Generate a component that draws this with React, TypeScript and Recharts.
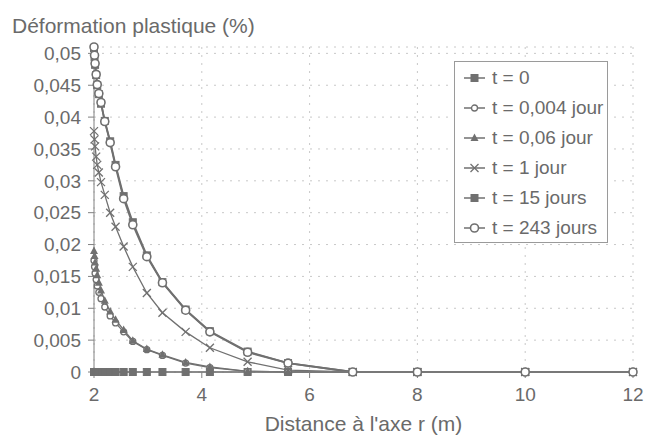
import React from 'react';
import { LineChart, Line, XAxis, YAxis, CartesianGrid, Label } from 'recharts';

// distances r (m) of the mesh points
const distances = [2, 2.01, 2.02, 2.04, 2.06, 2.09, 2.13, 2.2, 2.3, 2.4, 2.55, 2.72, 2.98, 3.27, 3.7, 4.15, 4.85, 5.6, 6.8, 8, 10, 12];

// plastic strain (%) per time
const t0 = [0, 0, 0, 0, 0, 0, 0, 0, 0, 0, 0, 0, 0, 0, 0, 0, 0, 0, 0, 0, 0, 0];
const t0004 = [0.0175, 0.0165, 0.0155, 0.0145, 0.0135, 0.0125, 0.0115, 0.0102, 0.0088, 0.0077, 0.0063, 0.0048, 0.0035, 0.0026, 0.0014, 0.0007, 0.0001, 0, 0, 0, 0, 0];
const t006 = [0.019, 0.0182, 0.0172, 0.0162, 0.0152, 0.014, 0.0128, 0.0112, 0.0095, 0.0082, 0.0066, 0.0049, 0.0036, 0.0027, 0.0015, 0.0008, 0.0001, 0, 0, 0, 0, 0];
const t1 = [0.0378, 0.0365, 0.0354, 0.0338, 0.0325, 0.0313, 0.0298, 0.0278, 0.025, 0.0228, 0.0197, 0.0165, 0.0124, 0.0093, 0.0063, 0.0038, 0.0016, 0.0003, 0, 0, 0, 0];
const t15 = [0.0508, 0.0494, 0.0482, 0.0466, 0.045, 0.0436, 0.0421, 0.0394, 0.0362, 0.0325, 0.0276, 0.0235, 0.0183, 0.0141, 0.0098, 0.0064, 0.0032, 0.0014, 0, 0, 0, 0];
const t243 = [0.051, 0.0497, 0.0484, 0.0467, 0.0451, 0.0437, 0.0423, 0.0393, 0.036, 0.0322, 0.0272, 0.0231, 0.0181, 0.014, 0.0097, 0.0063, 0.0031, 0.0014, 0, 0, 0, 0];

const xTicks = [2, 4, 6, 8, 10, 12];
const yTicks = [0, 0.005, 0.01, 0.015, 0.02, 0.025, 0.03, 0.035, 0.04, 0.045, 0.05];

const series = [
  { key: 't0', name: 't = 0', values: t0, shape: 'square' },
  { key: 't0004', name: 't = 0,004 jour', values: t0004, shape: 'smallCircle' },
  { key: 't006', name: 't = 0,06 jour', values: t006, shape: 'triangle' },
  { key: 't1', name: 't = 1 jour', values: t1, shape: 'cross' },
  { key: 't15', name: 't = 15 jours', values: t15, shape: 'square' },
  { key: 't243', name: 't = 243 jours', values: t243, shape: 'circle' },
];

const data = distances.map((r, i) => {
  const row: any = { r };
  series.forEach(s => { row[s.key] = s.values[i]; });
  return row;
});

const GRAY = '#707070';
const TEXT = '#6a6a6a';
const FONT = '"Liberation Sans", Arial, sans-serif';

const Marker = ({ shape, x, y }: { shape: string; x: number; y: number }) => {
  switch (shape) {
    case 'square':
      return <rect x={x - 3.5} y={y - 3.5} width={7} height={7} fill={GRAY} stroke={GRAY} />;
    case 'smallCircle':
      return <circle cx={x} cy={y} r={3} fill="#fff" stroke={GRAY} strokeWidth={1.3} />;
    case 'triangle':
      return <polygon points={`${x},${y - 4.5} ${x + 4},${y + 3} ${x - 4},${y + 3}`} fill={GRAY} />;
    case 'cross':
      return (
        <g stroke={GRAY} strokeWidth={1.3}>
          <line x1={x - 4} y1={y - 4} x2={x + 4} y2={y + 4} />
          <line x1={x - 4} y1={y + 4} x2={x + 4} y2={y - 4} />
        </g>
      );
    default:
      return <circle cx={x} cy={y} r={4} fill="#fff" stroke={GRAY} strokeWidth={1.6} />;
  }
};

const makeDot = (shape: string) => (props: any) => {
  const { cx, cy, index } = props;
  if (cx == null || cy == null) return <g key={index} />;
  return <g key={index}><Marker shape={shape} x={cx} y={cy} /></g>;
};

const LegendBox = () => (
  <div
    style={{
      position: 'absolute',
      left: 454,
      top: 61,
      width: 152,
      height: 179,
      border: '1px solid #9a9a9a',
      background: '#fff',
      fontFamily: FONT,
      fontSize: 19,
      color: TEXT,
      paddingTop: 1,
    }}
  >
    {series.map(s => (
      <div key={s.key} style={{ height: 30, display: 'flex', alignItems: 'center', whiteSpace: 'nowrap' }}>
        <svg width={24} height={14} style={{ marginLeft: 8, marginRight: 5 }}>
          <line x1={1} y1={7} x2={22} y2={7} stroke={GRAY} strokeWidth={1.5} />
          <Marker shape={s.shape} x={11.5} y={7} />
        </svg>
        <span>{s.name}</span>
      </div>
    ))}
  </div>
);

const fmtY = (v: number) => (v === 0 ? '0' : String(+v.toFixed(3)).replace('.', ','));

export default function App() {
  return (
    <div style={{ position: 'relative', width: 647, height: 436, fontFamily: FONT }}>
      <style>{'body { margin: 0; }'}</style>
      <div style={{ position: 'absolute', left: 12, top: 15, fontSize: 21, lineHeight: '21px', color: TEXT, whiteSpace: 'nowrap' }}>
        Déformation plastique (%)
      </div>
      <LineChart width={647} height={436} data={data} margin={{ top: 47, right: 14, bottom: 0, left: 0 }}>
        <CartesianGrid stroke="#c8c8c8" strokeDasharray="2 6" />
        <XAxis
          dataKey="r"
          type="number"
          domain={[2, 12]}
          ticks={xTicks}
          height={64}
          tickSize={6}
          tickMargin={10}
          stroke="#808080"
          interval={0}
          tick={{ fill: TEXT, fontSize: 19, fontFamily: FONT }}
        >
          <Label value="Distance à l'axe r (m)" position="insideBottom" offset={5} fill={TEXT} fontSize={21} fontFamily={FONT} />
        </XAxis>
        <YAxis
          type="number"
          domain={[0, 0.051]}
          ticks={yTicks}
          width={94}
          tickSize={6}
          tickMargin={7}
          interval={0}
          stroke="#808080"
          tickFormatter={fmtY}
          tick={{ fill: TEXT, fontSize: 19, fontFamily: FONT }}
        />
        {series.map(s => (
          <Line
            key={s.key}
            dataKey={s.key}
            name={s.name}
            type="linear"
            stroke={GRAY}
            strokeWidth={s.key === 't15' || s.key === 't243' ? 1.8 : 1.3}
            dot={makeDot(s.shape)}
            activeDot={false}
            isAnimationActive={false}
          />
        ))}
      </LineChart>
      <LegendBox />
    </div>
  );
}
